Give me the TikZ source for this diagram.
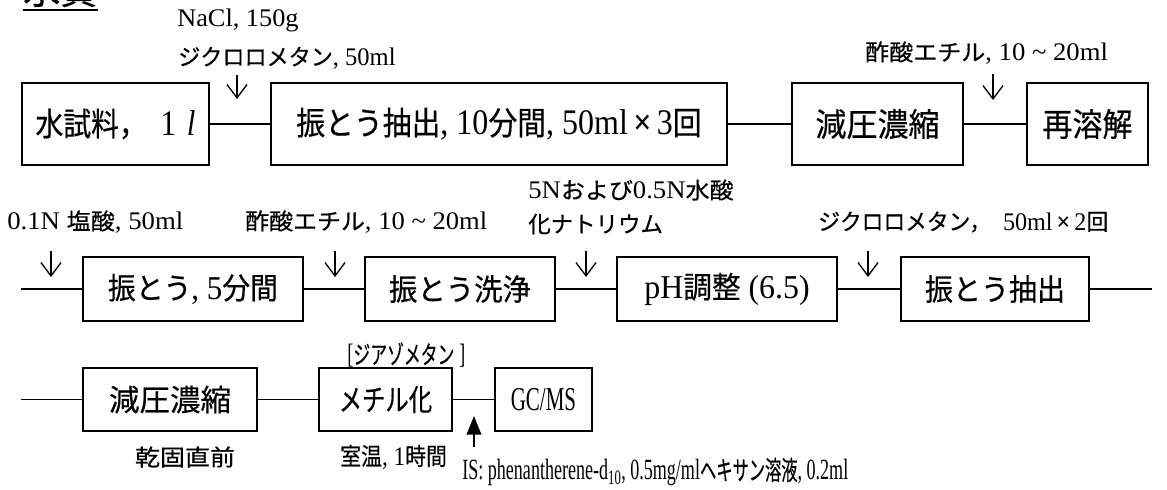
\documentclass[tikz,border=0pt]{standalone}
\usepackage{fontspec}
\setmainfont{Liberation Serif}
\newfontfamily\jpf[Scale=0.9,FakeBold=0.5]{Noto Sans CJK JP}
\usetikzlibrary{arrows.meta}
\newcommand\JP[1]{{\jpf #1}}
\newcommand\RW[2]{\resizebox{#1}{\height}{#2}}
\newcommand\TX{{\bfseries ×}}
\newcommand\szA{\fontsize{27}{30}\selectfont}
\newcommand\szB{\fontsize{25}{28}\selectfont}
\newcommand\szL{\fontsize{19}{22}\selectfont}
\newcommand\szT{\fontsize{31}{34}\selectfont}
\begin{document}
\begin{tikzpicture}[x=0.75pt,y=-0.75pt,
  box/.style={draw,line width=1.3pt,inner sep=0pt,anchor=center},
  boxA/.style={box,font=\szA,minimum height=61.5pt},
  boxB/.style={box,font=\szB,minimum height=48pt},
  conn/.style={line width=1.3pt},
  arr/.style={line width=1pt,-{Straight Barb[length=10pt,width=15pt,line width=1pt]}},
  farr/.style={line width=1.2pt,-{Triangle[length=14pt,width=11pt]}},
  lab/.style={inner sep=0pt,anchor=west,font=\szL},
  clab/.style={inner sep=0pt,font=\szL}]
\useasboundingbox (0,0) rectangle (1167,489);

% title
\node[inner sep=0pt,anchor=base west,font=\szT] (title) at (23,4) {\RW{55.5pt}{\JP{水質}}};
\draw[line width=2.2pt] ([yshift=-4.5pt]title.base west) -- ([yshift=-4.5pt]title.base east);

% row 1
\node[boxA,minimum width=140.25pt] (b1) at (115.5,124) {\RW{120pt}{\JP{水試料，}\hspace{0.45em}1\hspace{0.35em}\textit{l}}};
\node[boxA,minimum width=342pt] (b2) at (499,124) {\RW{304pt}{\JP{振とう抽出}, 10\JP{分間}, 50ml\,\TX\,3\JP{回}}};
\node[boxA,minimum width=128.25pt] (b3) at (877.5,124) {\RW{93pt}{\JP{減圧濃縮}}};
\node[boxA,minimum width=90.75pt] (b4) at (1087.5,124) {\RW{67.5pt}{\JP{再溶解}}};
\draw[conn] (b1.east) -- (b2.west);
\draw[conn] (b2.east) -- (b3.west);
\draw[conn] (b3.east) -- (b4.west);

\node[lab] (l1) at (177,20) {\RW{91pt}{NaCl, 150g}};
\node[lab] (l2) at (178,58) {\RW{163pt}{\JP{ジクロロメタン}, 50ml}};
\node[lab] (l3) at (865,53) {\RW{182pt}{\JP{酢酸エチル}, 10 \textasciitilde{} 20ml}};
\coordinate (a1s) at (237,75); \coordinate (a1e) at (237,99);
\coordinate (a2s) at (993,74); \coordinate (a2e) at (993,100);
\draw[arr] (a1s) -- (a1e);
\draw[arr] (a2s) -- (a2e);

% row 2
\coordinate (r2s) at (21,289);
\coordinate (r2e) at (1152,289);
\node[boxB,minimum width=165pt] (c1) at (193,289) {\RW{127.5pt}{\JP{振とう}, 5\JP{分間}}};
\node[boxB,minimum width=142.5pt] (c2) at (460,289) {\RW{106.5pt}{\JP{振とう洗浄}}};
\node[boxB,minimum width=165pt] (c3) at (727,289) {\RW{124pt}{pH\JP{調整} (6.5)}};
\node[boxB,minimum width=141pt] (c4) at (995,289) {\RW{105pt}{\JP{振とう抽出}}};
\draw[conn] (r2s) -- (c1.west);
\draw[conn] (c1.east) -- (c2.west);
\draw[conn] (c2.east) -- (c3.west);
\draw[conn] (c3.east) -- (c4.west);
\draw[conn] (c4.east) -- (r2e);

\node[lab] (l4) at (7,222) {\RW{132pt}{0.1N \JP{塩酸}, 50ml}};
\node[lab] (l5) at (245,222) {\RW{181.5pt}{\JP{酢酸エチル}, 10 \textasciitilde{} 20ml}};
\node[lab] (l6) at (528,190) {\RW{154pt}{5N\JP{および}0.5N\JP{水酸}}};
\node[lab] (l7) at (528,224) {\RW{101pt}{\JP{化ナトリウム}}};
\node[lab] (l8) at (818,222) {\RW{217.5pt}{\JP{ジクロロメタン，}\hspace{0.5em}50ml\,\TX\,2\JP{回}}};
\coordinate (a3s) at (51,251); \coordinate (a3e) at (51,277);
\coordinate (a4s) at (335,251); \coordinate (a4e) at (335,277);
\coordinate (a5s) at (586,251); \coordinate (a5e) at (586,277);
\coordinate (a6s) at (868,251); \coordinate (a6e) at (868,277);
\draw[arr] (a3s) -- (a3e);
\draw[arr] (a4s) -- (a4e);
\draw[arr] (a5s) -- (a5e);
\draw[arr] (a6s) -- (a6e);

% row 3
\coordinate (r3s) at (21,399.5);
\node[boxB,minimum height=47.25pt,minimum width=130.5pt] (d1) at (170,399.5) {\RW{91.5pt}{\JP{減圧濃縮}}};
\node[boxB,minimum height=47.25pt,minimum width=99.75pt] (d2) at (385.5,399.5) {\RW{70pt}{\JP{メチル化}}};
\node[boxB,minimum height=47.25pt,minimum width=72.75pt] (d3) at (543.5,399.5) {\RW{49pt}{GC/MS}};
\draw[conn] (r3s) -- (d1.west);
\draw[conn] (d1.east) -- (d2.west);
\draw[conn] (d2.east) -- (d3.west);

\node[lab,font=\fontsize{21}{24}\selectfont] (l9) at (347,355) {\RW{88.5pt}{[\JP{ジアゾメタン} ]}};
\node[lab,font=\fontsize{20}{23}\selectfont] (l10) at (340,457) {\RW{80pt}{\JP{室温}, 1\JP{時間}}};
\node[clab] (l11) at (185,457) {\RW{75pt}{\JP{乾固直前}}};
\node[lab,font=\fontsize{22}{24}\selectfont] (l12) at (462,472) {\RW{289.5pt}{IS: phenantherene-d\textsubscript{10}, 0.5mg/ml\JP{ヘキサン溶液}, 0.2ml}};
\coordinate (a7s) at (474,447); \coordinate (a7e) at (474,416);
\draw[farr] (a7s) -- (a7e);
\end{tikzpicture}
\end{document}
